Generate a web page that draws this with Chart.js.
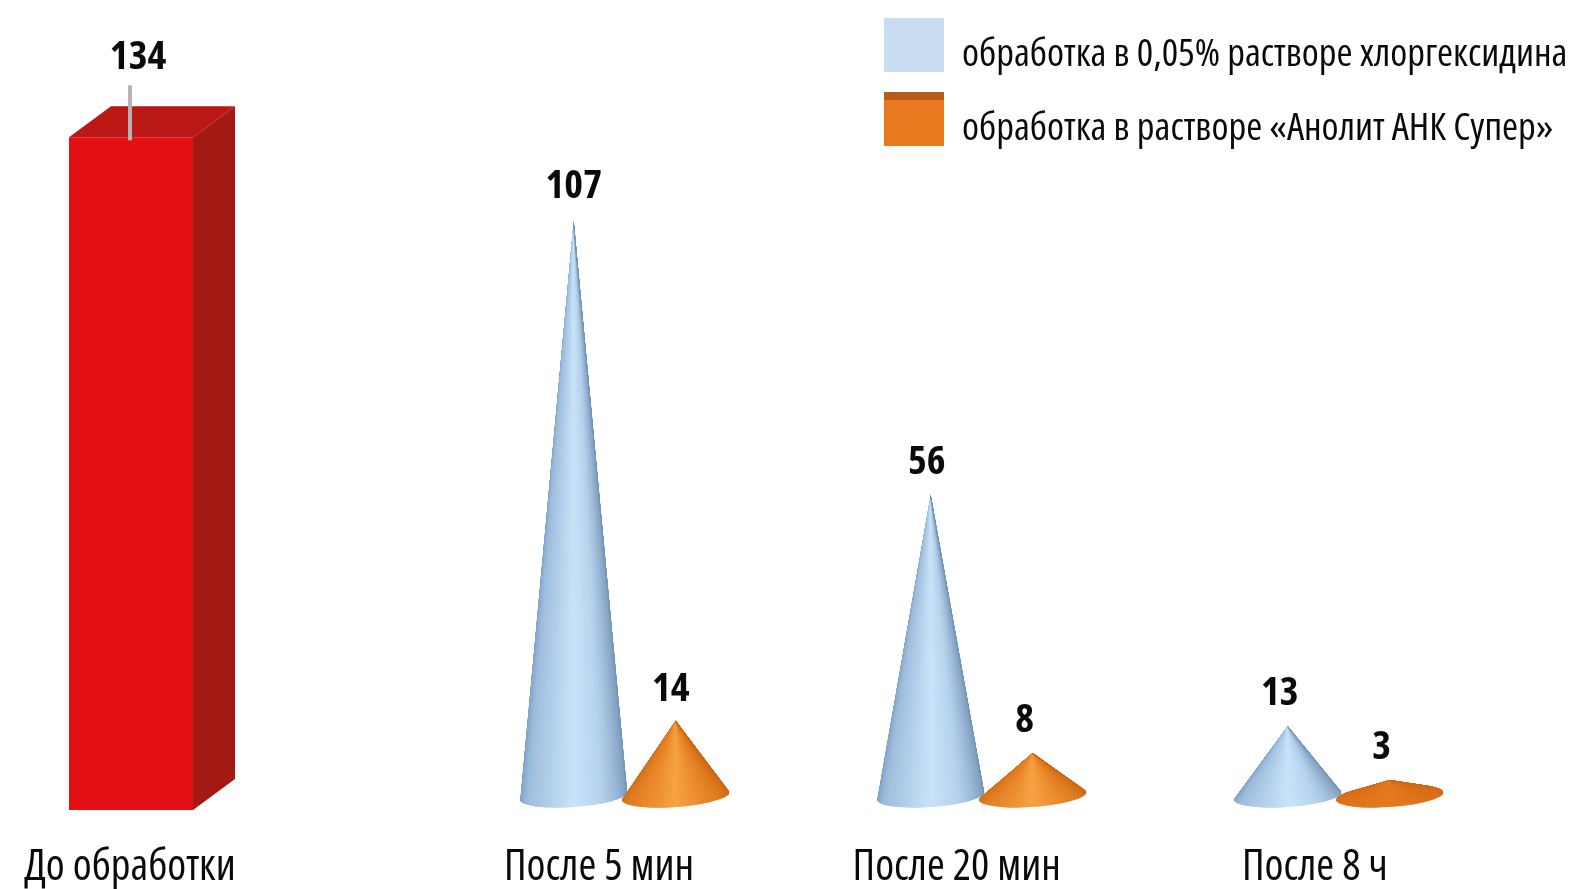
<!DOCTYPE html>
<html>
<head>
<meta charset="utf-8">
<style>
html, body { margin: 0; padding: 0; background: #fff; }
canvas { display: block; }
</style>
<script src="https://cdn.jsdelivr.net/npm/chart.js@4"></script>
</head>
<body>
<canvas id="chart_cones" width="1581" height="889"></canvas>
<script>
/* data */
const categories = ['До обработки', 'После 5 мин', 'После 20 мин', 'После 8 ч'];
const barSlots = [0.367, 1.75, 2.75, 3.75];      // x axis units, groups are not evenly spaced
const tickSlots = [0.364, 1.678, 2.68, 3.683];   // labels sit left of their groups
const beforeValues = [134, null, null, null];
const chlorhexidineValues = [null, 107, 56, 13];
const anolitValues = [null, 14, 8, 3];
const seriesNames = ['До обработки', 'обработка в 0,05% растворе хлоргексидина', 'обработка в растворе «Анолит АНК Супер»'];

const FONT = '"Open Sans", sans-serif';

/* shade stops across the cone, left edge to right edge */
const blueShades = ['#7898bf', '#9dbcdc', '#b0cde9', '#c9e3f9', '#b6d2ec', '#8fadce', '#7594b6'];
const orangeShades = ['#cf6a18', '#de7a20', '#ea8a2c', '#f6a244', '#e98629', '#d97419', '#c9651a'];
const flatOrangeShades = ['#d2671a', '#dc6f1a', '#e0741b', '#e47a1d', '#dd711a', '#d86c19', '#cf6618'];

/* value label nudges per dataset, [dx, dy] from the tip of the shape */
const labelNudges = [
    [[7, -68]],
    [null, [0, -23], [-4, -21], [-8, -21]],
    [null, [-5, -20], [-8, -21], [-8, -21]]
];

function mix(shades, t){
    let p = Math.min(Math.max(t, 0), 0.9999) * (shades.length - 1);
    let i = Math.floor(p);
    let f = p - i;
    let c = [1, 3, 5].map((s)=>{
        let a = parseInt(shades[i].substr(s, 2), 16);
        let b = parseInt(shades[i + 1].substr(s, 2), 16);
        return Math.round(a + (b - a) * f);
    });
    return `rgb(${c[0]},${c[1]},${c[2]})`;
}

function drawCone(ctx, bar, shades){
    const tilt = -0.072;
    const rx = bar.width * 0.525;
    const ry = 11;
    let cx = bar.x;
    let cy = bar.base;
    let d = Math.max((cy - bar.y) / ry, 1.05);
    let touch = Math.asin(1 / d);
    let onRim = (a)=>{
        let ex = rx * Math.cos(a);
        let ey = ry * Math.sin(a);
        return [cx + ex * Math.cos(tilt) - ey * Math.sin(tilt), cy + ex * Math.sin(tilt) + ey * Math.cos(tilt)];
    };
    let from = Math.PI + touch;   // left tangent point
    let to = -touch;              // right tangent point
    ctx.save();
    ctx.beginPath();
    ctx.moveTo(bar.x, bar.y);
    ctx.lineTo(...onRim(from));
    ctx.ellipse(cx, cy, rx, ry, tilt, from, to, true);
    ctx.closePath();
    ctx.clip();
    let steps = 90;
    for(let i = 0; i < steps; i++){
        let a = from + (to - from) * i / steps;
        let b = from + (to - from) * (i + 1) / steps;
        let pa = onRim(a);
        let pb = onRim(b);
        let color = mix(shades, i / (steps - 1));
        ctx.beginPath();
        ctx.moveTo(bar.x, bar.y);
        ctx.lineTo(pa[0], pa[1]);
        ctx.lineTo(pb[0], pb[1] + 3);
        ctx.lineTo(pb[0], pb[1]);
        ctx.closePath();
        ctx.fillStyle = color;
        ctx.strokeStyle = color;
        ctx.lineWidth = 1;
        ctx.fill();
        ctx.stroke();
    }
    ctx.restore();
}

function drawBox(ctx, bar){
    const dx = 42;
    const dy = 31;
    let left = bar.x - bar.width / 2;
    let right = bar.x + bar.width / 2;
    let poly = (pts, color)=>{
        ctx.beginPath();
        pts.forEach((p, i)=> i ? ctx.lineTo(p[0], p[1]) : ctx.moveTo(p[0], p[1]));
        ctx.closePath();
        ctx.fillStyle = color;
        ctx.fill();
    };
    poly([[left, bar.y], [left + dx, bar.y - dy], [right + dx, bar.y - dy], [right, bar.y]], '#bb1815');
    poly([[right, bar.y], [right + dx, bar.y - dy], [right + dx, bar.base - dy], [right, bar.base]], '#a31a13');
    poly([[left, bar.y], [right, bar.y], [right, bar.base], [left, bar.base]], '#e30f15');
    /* grey leader line to the value */
    ctx.fillStyle = '#b4b4b4';
    ctx.fillRect(bar.x - 3, bar.y - 52, 4, 55);
}

/* shapes, values and the legend are painted from the bar elements */
const conePlugin = {
    id: 'conePlugin',
    afterDatasetsDraw(chart){
        let ctx = chart.ctx;
        chart.data.datasets.forEach((set, di)=>{
            chart.getDatasetMeta(di).data.forEach((el, i)=>{
                if( set.data[i].y === null){
                    return;
                };
                let bar = el.getProps(['x', 'y', 'base', 'width'], true);
                if( di === 0){
                    drawBox(ctx, bar);
                }
                else if( di === 1){
                    drawCone(ctx, bar, blueShades);
                }
                else{
                    drawCone(ctx, bar, set.data[i].y < 5 ? flatOrangeShades : orangeShades);
                };
                let nudge = labelNudges[di][i];
                ctx.save();
                ctx.font = 'bold condensed 40px ' + FONT;
                ctx.fillStyle = '#0a0a0a';
                ctx.textAlign = 'center';
                ctx.textBaseline = 'alphabetic';
                ctx.fillText(String(set.data[i].y), bar.x + nudge[0], bar.y + nudge[1]);
                ctx.restore();
            });
        });
        /* legend */
        ctx.save();
        ctx.fillStyle = '#c9def2';
        ctx.fillRect(884, 18, 60, 54);
        ctx.fillStyle = '#ea7a20';
        ctx.fillRect(884, 92, 60, 54);
        ctx.fillStyle = '#b85d18';
        ctx.fillRect(884, 92, 60, 8);
        ctx.font = 'condensed 38.7px ' + FONT;
        ctx.fillStyle = '#0a0a0a';
        ctx.textAlign = 'left';
        ctx.fillText(seriesNames[1], 962, 66);
        ctx.fillText(seriesNames[2], 962, 140);
        ctx.restore();
    }
};

const makeSet = (values, label, yAxisID, barThickness)=>({
    label: label,
    yAxisID: yAxisID,
    barThickness: barThickness,
    skipNull: true,
    backgroundColor: 'transparent',
    data: values.map((v, i)=>({x: barSlots[i], y: v}))
});

let chart_cones = new Chart(document.querySelector('#chart_cones').getContext('2d'), {
    type: 'bar',
    data: {
        datasets: [
            makeSet(beforeValues, seriesNames[0], 'yBox', 124),
            makeSet(chlorhexidineValues, seriesNames[1], 'y', 102),
            makeSet(anolitValues, seriesNames[2], 'y', 102)
        ]
    },
    plugins: [conePlugin],
    options: {
        responsive: false,
        animation: false,
        layout: { padding: 0 },
        plugins: {
            legend: { display: false },
            tooltip: { enabled: false }
        },
        scales: {
            x: {
                type: 'linear',
                offset: false,
                min: 0,
                max: 4.4286,
                grid: { display: false },
                border: { display: false },
                afterBuildTicks: (scale)=>{
                    scale.ticks = tickSlots.map((v)=>({value: v}));
                },
                afterFit: (scale)=>{
                    scale.height = 79;
                },
                ticks: {
                    autoSkip: false,
                    maxRotation: 0,
                    padding: 24,
                    color: '#0a0a0a',
                    font: { family: FONT, weight: 'condensed', size: 43 },
                    callback: (value, i)=> categories[i]
                }
            },
            /* the cones and the box were not drawn to one scale in the source */
            y: { display: false, min: -2.607, max: 148.23 },
            yBox: { display: false, min: 0, max: 161.35 }
        }
    }
});
</script>
</body>
</html>
